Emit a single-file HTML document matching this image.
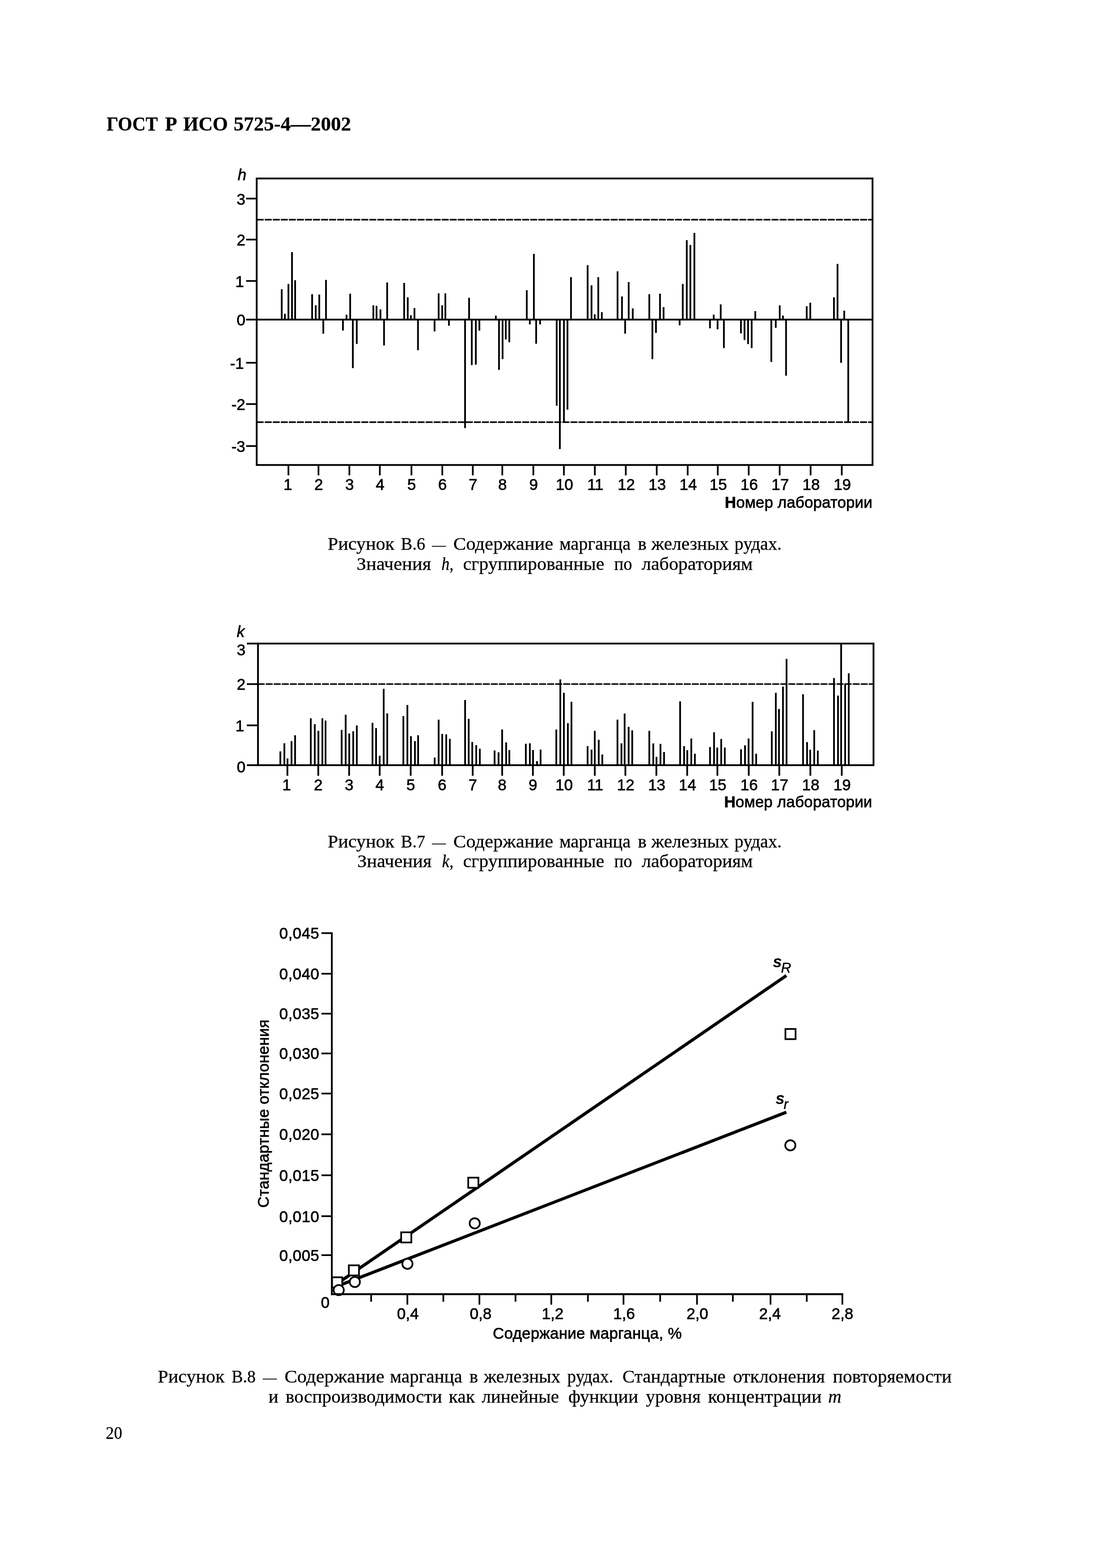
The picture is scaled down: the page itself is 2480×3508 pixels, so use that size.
<!DOCTYPE html>
<html lang="ru">
<head>
<meta charset="utf-8">
<title>ГОСТ Р ИСО 5725-4—2002</title>
<style>
html,body{margin:0;padding:0;background:#fff;}
body{width:2480px;height:3508px;overflow:hidden;}
svg{display:block;}
text{fill:#000;white-space:pre;}
.sa{font-family:"Liberation Sans", sans-serif;stroke:#000;stroke-width:0.8px;}
.se{font-family:"Liberation Serif", serif;stroke:#000;stroke-width:0.35px;}
</style>
</head>
<body>
<svg width="2480" height="3508" viewBox="0 0 2480 3508">
<rect width="2480" height="3508" fill="#fff"/>
<g id="chart1">
<rect x="574.0" y="399.3" width="1377.2" height="641.0" fill="none" stroke="#000" stroke-width="4"/>
<line x1="550.4" y1="715.0" x2="1951.2" y2="715.0" stroke="#000" stroke-width="3.8" />
<line x1="550.4" y1="444.3" x2="574.0" y2="444.3" stroke="#000" stroke-width="3.8" />
<text class="sa" x="548.6" y="457.6" font-size="35" text-anchor="end">3</text>
<line x1="550.4" y1="536.0" x2="574.0" y2="536.0" stroke="#000" stroke-width="3.8" />
<text class="sa" x="548.6" y="549.3" font-size="35" text-anchor="end">2</text>
<line x1="550.4" y1="628.6" x2="574.0" y2="628.6" stroke="#000" stroke-width="3.8" />
<text class="sa" x="545.6" y="641.9" font-size="35" text-anchor="end">1</text>
<text class="sa" x="548.6" y="728.3" font-size="35" text-anchor="end">0</text>
<line x1="550.4" y1="811.6" x2="574.0" y2="811.6" stroke="#000" stroke-width="3.8" />
<text class="sa" x="545.6" y="824.9" font-size="35" text-anchor="end">-1</text>
<line x1="550.4" y1="904.0" x2="574.0" y2="904.0" stroke="#000" stroke-width="3.8" />
<text class="sa" x="548.6" y="917.3" font-size="35" text-anchor="end">-2</text>
<line x1="550.4" y1="997.9" x2="574.0" y2="997.9" stroke="#000" stroke-width="3.8" />
<text class="sa" x="548.6" y="1011.2" font-size="35" text-anchor="end">-3</text>
<line x1="574.0" y1="491.5" x2="1951.2" y2="491.5" stroke="#000" stroke-width="3.3" stroke-dasharray="15.7 2.29"/>
<line x1="574.0" y1="944.5" x2="1951.2" y2="944.5" stroke="#000" stroke-width="3.3" stroke-dasharray="15.7 2.29"/>
<path fill="#000" d="M628.05 647.1h3.9V715.0h-3.9zM635.05 702.1h3.9V715.0h-3.9zM643.05 635.2h3.9V715.0h-3.9zM651.05 564.1h3.9V715.0h-3.9zM658.05 627.0h3.9V715.0h-3.9zM696.05 658.2h3.9V715.0h-3.9zM704.05 683.1h3.9V715.0h-3.9zM712.05 659.0h3.9V715.0h-3.9zM721.05 715.0h3.9V746.6h-3.9zM727.05 626.2h3.9V715.0h-3.9zM764.95 715.0h3.9V739.5h-3.9zM772.95 704.1h3.9V715.0h-3.9zM781.15 657.1h3.9V715.0h-3.9zM787.05 715.0h3.9V823.4h-3.9zM795.85 715.0h3.9V769.6h-3.9zM832.95 683.1h3.9V715.0h-3.9zM840.05 684.3h3.9V715.0h-3.9zM848.85 692.2h3.9V715.0h-3.9zM856.85 715.0h3.9V772.7h-3.9zM863.85 632.1h3.9V715.0h-3.9zM901.85 633.0h3.9V715.0h-3.9zM909.85 665.0h3.9V715.0h-3.9zM916.85 705.2h3.9V715.0h-3.9zM924.85 689.1h3.9V715.0h-3.9zM932.75 715.0h3.9V783.5h-3.9zM969.85 715.0h3.9V741.5h-3.9zM978.95 656.2h3.9V715.0h-3.9zM986.95 683.1h3.9V715.0h-3.9zM993.95 656.2h3.9V715.0h-3.9zM1001.95 715.0h3.9V728.7h-3.9zM1038.05 715.0h3.9V957.7h-3.9zM1047.05 666.3h3.9V715.0h-3.9zM1053.05 715.0h3.9V816.8h-3.9zM1062.15 715.0h3.9V815.7h-3.9zM1070.05 715.0h3.9V739.7h-3.9zM1106.85 706.3h3.9V715.0h-3.9zM1113.95 715.0h3.9V827.6h-3.9zM1121.95 715.0h3.9V803.5h-3.9zM1129.05 715.0h3.9V759.5h-3.9zM1136.95 715.0h3.9V765.8h-3.9zM1176.05 649.3h3.9V715.0h-3.9zM1182.85 715.0h3.9V725.8h-3.9zM1191.95 567.9h3.9V715.0h-3.9zM1197.05 715.0h3.9V768.9h-3.9zM1205.85 715.0h3.9V725.8h-3.9zM1242.95 715.0h3.9V907.8h-3.9zM1250.05 715.0h3.9V1004.7h-3.9zM1259.15 715.0h3.9V944.6h-3.9zM1267.05 715.0h3.9V916.6h-3.9zM1274.95 620.1h3.9V715.0h-3.9zM1312.15 593.2h3.9V715.0h-3.9zM1320.85 638.2h3.9V715.0h-3.9zM1327.95 703.1h3.9V715.0h-3.9zM1335.95 620.1h3.9V715.0h-3.9zM1343.85 698.3h3.9V715.0h-3.9zM1379.05 607.1h3.9V715.0h-3.9zM1388.95 663.2h3.9V715.0h-3.9zM1396.05 715.0h3.9V746.5h-3.9zM1403.95 631.1h3.9V715.0h-3.9zM1413.05 690.1h3.9V715.0h-3.9zM1450.05 658.2h3.9V715.0h-3.9zM1456.95 715.0h3.9V803.6h-3.9zM1464.95 715.0h3.9V744.8h-3.9zM1473.95 657.0h3.9V715.0h-3.9zM1481.95 687.1h3.9V715.0h-3.9zM1517.85 715.0h3.9V727.8h-3.9zM1524.85 635.2h3.9V715.0h-3.9zM1533.85 537.2h3.9V715.0h-3.9zM1541.85 548.1h3.9V715.0h-3.9zM1550.85 521.1h3.9V715.0h-3.9zM1585.75 715.0h3.9V734.5h-3.9zM1594.05 704.1h3.9V715.0h-3.9zM1602.75 715.0h3.9V736.8h-3.9zM1609.75 681.0h3.9V715.0h-3.9zM1616.85 715.0h3.9V778.8h-3.9zM1654.95 715.0h3.9V745.8h-3.9zM1662.95 715.0h3.9V760.8h-3.9zM1670.95 715.0h3.9V769.8h-3.9zM1678.95 715.0h3.9V778.8h-3.9zM1687.05 696.1h3.9V715.0h-3.9zM1722.85 715.0h3.9V809.8h-3.9zM1732.85 715.0h3.9V733.6h-3.9zM1741.75 683.3h3.9V715.0h-3.9zM1748.85 706.0h3.9V715.0h-3.9zM1755.85 715.0h3.9V840.6h-3.9zM1802.05 685.2h3.9V715.0h-3.9zM1810.05 677.2h3.9V715.0h-3.9zM1862.95 665.3h3.9V715.0h-3.9zM1870.95 590.4h3.9V715.0h-3.9zM1878.95 715.0h3.9V811.8h-3.9zM1885.95 695.1h3.9V715.0h-3.9zM1894.95 715.0h3.9V944.4h-3.9z"/>
<line x1="645.0" y1="1040.3" x2="645.0" y2="1063.5" stroke="#000" stroke-width="3.8" />
<text class="sa" x="643.8" y="1096.0" font-size="35" text-anchor="middle">1</text>
<line x1="712.2" y1="1040.3" x2="712.2" y2="1063.5" stroke="#000" stroke-width="3.8" />
<text class="sa" x="712.7" y="1096.0" font-size="35" text-anchor="middle">2</text>
<line x1="781.3" y1="1040.3" x2="781.3" y2="1063.5" stroke="#000" stroke-width="3.8" />
<text class="sa" x="781.8" y="1096.0" font-size="35" text-anchor="middle">3</text>
<line x1="849.4" y1="1040.3" x2="849.4" y2="1063.5" stroke="#000" stroke-width="3.8" />
<text class="sa" x="849.9" y="1096.0" font-size="35" text-anchor="middle">4</text>
<line x1="920.1" y1="1040.3" x2="920.1" y2="1063.5" stroke="#000" stroke-width="3.8" />
<text class="sa" x="920.6" y="1096.0" font-size="35" text-anchor="middle">5</text>
<line x1="989.1" y1="1040.3" x2="989.1" y2="1063.5" stroke="#000" stroke-width="3.8" />
<text class="sa" x="989.6" y="1096.0" font-size="35" text-anchor="middle">6</text>
<line x1="1057.3" y1="1040.3" x2="1057.3" y2="1063.5" stroke="#000" stroke-width="3.8" />
<text class="sa" x="1057.8" y="1096.0" font-size="35" text-anchor="middle">7</text>
<line x1="1123.3" y1="1040.3" x2="1123.3" y2="1063.5" stroke="#000" stroke-width="3.8" />
<text class="sa" x="1123.8" y="1096.0" font-size="35" text-anchor="middle">8</text>
<line x1="1192.7" y1="1040.3" x2="1192.7" y2="1063.5" stroke="#000" stroke-width="3.8" />
<text class="sa" x="1193.2" y="1096.0" font-size="35" text-anchor="middle">9</text>
<line x1="1261.0" y1="1040.3" x2="1261.0" y2="1063.5" stroke="#000" stroke-width="3.8" />
<text class="sa" x="1262.2" y="1096.0" font-size="35" text-anchor="middle">10</text>
<line x1="1330.2" y1="1040.3" x2="1330.2" y2="1063.5" stroke="#000" stroke-width="3.8" />
<text class="sa" x="1331.4" y="1096.0" font-size="35" text-anchor="middle">11</text>
<line x1="1399.4" y1="1040.3" x2="1399.4" y2="1063.5" stroke="#000" stroke-width="3.8" />
<text class="sa" x="1400.6" y="1096.0" font-size="35" text-anchor="middle">12</text>
<line x1="1468.6" y1="1040.3" x2="1468.6" y2="1063.5" stroke="#000" stroke-width="3.8" />
<text class="sa" x="1469.8" y="1096.0" font-size="35" text-anchor="middle">13</text>
<line x1="1537.8" y1="1040.3" x2="1537.8" y2="1063.5" stroke="#000" stroke-width="3.8" />
<text class="sa" x="1539.0" y="1096.0" font-size="35" text-anchor="middle">14</text>
<line x1="1605.1" y1="1040.3" x2="1605.1" y2="1063.5" stroke="#000" stroke-width="3.8" />
<text class="sa" x="1606.3" y="1096.0" font-size="35" text-anchor="middle">15</text>
<line x1="1674.3" y1="1040.3" x2="1674.3" y2="1063.5" stroke="#000" stroke-width="3.8" />
<text class="sa" x="1675.5" y="1096.0" font-size="35" text-anchor="middle">16</text>
<line x1="1743.5" y1="1040.3" x2="1743.5" y2="1063.5" stroke="#000" stroke-width="3.8" />
<text class="sa" x="1744.7" y="1096.0" font-size="35" text-anchor="middle">17</text>
<line x1="1812.7" y1="1040.3" x2="1812.7" y2="1063.5" stroke="#000" stroke-width="3.8" />
<text class="sa" x="1813.9" y="1096.0" font-size="35" text-anchor="middle">18</text>
<line x1="1882.4" y1="1040.3" x2="1882.4" y2="1063.5" stroke="#000" stroke-width="3.8" />
<text class="sa" x="1883.6" y="1096.0" font-size="35" text-anchor="middle">19</text>
<text class="sa" x="531.5" y="402.8" font-size="35" style="font-style:italic">h</text>
<text class="sa" x="1620.8" y="1136.2" font-size="35" textLength="330.0" lengthAdjust="spacing"><tspan font-weight="bold">Н</tspan>омер лаборатории</text>
</g>
<g id="chart2">
<rect x="576.9" y="1439.8" width="1376.5" height="272.1" fill="none" stroke="#000" stroke-width="4"/>
<line x1="552.0" y1="1439.8" x2="576.9" y2="1439.8" stroke="#000" stroke-width="4" />
<line x1="552.0" y1="1711.9" x2="576.9" y2="1711.9" stroke="#000" stroke-width="4" />
<line x1="552.0" y1="1530.5" x2="576.9" y2="1530.5" stroke="#000" stroke-width="3.8" />
<line x1="552.0" y1="1622.8" x2="576.9" y2="1622.8" stroke="#000" stroke-width="3.8" />
<line x1="576.2" y1="1530.3" x2="1953.4" y2="1530.3" stroke="#000" stroke-width="3.3" stroke-dasharray="15.7 2.28"/>
<text class="sa" x="549.0" y="1466.3" font-size="35" text-anchor="end">3</text>
<text class="sa" x="549.0" y="1543.3" font-size="35" text-anchor="end">2</text>
<text class="sa" x="546.0" y="1636.3" font-size="35" text-anchor="end">1</text>
<text class="sa" x="549.0" y="1727.5" font-size="35" text-anchor="end">0</text>
<path fill="#000" d="M624.95 1681.0h3.9V1711.9h-3.9zM633.95 1662.8h3.9V1711.9h-3.9zM640.95 1696.7h3.9V1711.9h-3.9zM649.95 1657.9h3.9V1711.9h-3.9zM657.95 1644.9h3.9V1711.9h-3.9zM693.05 1607.0h3.9V1711.9h-3.9zM701.95 1620.0h3.9V1711.9h-3.9zM710.05 1635.1h3.9V1711.9h-3.9zM718.95 1607.0h3.9V1711.9h-3.9zM726.05 1612.0h3.9V1711.9h-3.9zM762.05 1632.9h3.9V1711.9h-3.9zM771.05 1599.0h3.9V1711.9h-3.9zM779.05 1640.9h3.9V1711.9h-3.9zM787.95 1636.0h3.9V1711.9h-3.9zM795.95 1623.1h3.9V1711.9h-3.9zM831.05 1616.9h3.9V1711.9h-3.9zM839.05 1628.9h3.9V1711.9h-3.9zM847.05 1690.8h3.9V1711.9h-3.9zM856.05 1541.1h3.9V1711.9h-3.9zM864.05 1596.0h3.9V1711.9h-3.9zM900.05 1602.1h3.9V1711.9h-3.9zM909.05 1577.2h3.9V1711.9h-3.9zM917.05 1647.1h3.9V1711.9h-3.9zM925.95 1657.9h3.9V1711.9h-3.9zM933.05 1644.9h3.9V1711.9h-3.9zM970.05 1694.8h3.9V1711.9h-3.9zM978.95 1610.1h3.9V1711.9h-3.9zM986.95 1642.0h3.9V1711.9h-3.9zM995.95 1643.0h3.9V1711.9h-3.9zM1003.95 1652.9h3.9V1711.9h-3.9zM1038.15 1566.0h3.9V1711.9h-3.9zM1046.15 1608.2h3.9V1711.9h-3.9zM1054.15 1660.0h3.9V1711.9h-3.9zM1063.05 1667.1h3.9V1711.9h-3.9zM1071.05 1675.1h3.9V1711.9h-3.9zM1104.05 1679.1h3.9V1711.9h-3.9zM1112.95 1683.1h3.9V1711.9h-3.9zM1120.95 1632.0h3.9V1711.9h-3.9zM1129.95 1660.9h3.9V1711.9h-3.9zM1137.05 1677.9h3.9V1711.9h-3.9zM1173.95 1664.0h3.9V1711.9h-3.9zM1182.95 1663.1h3.9V1711.9h-3.9zM1190.05 1677.9h3.9V1711.9h-3.9zM1198.95 1702.8h3.9V1711.9h-3.9zM1206.95 1676.9h3.9V1711.9h-3.9zM1242.05 1632.0h3.9V1711.9h-3.9zM1251.05 1520.1h3.9V1711.9h-3.9zM1259.05 1550.0h3.9V1711.9h-3.9zM1267.95 1618.1h3.9V1711.9h-3.9zM1275.95 1570.0h3.9V1711.9h-3.9zM1312.05 1668.9h3.9V1711.9h-3.9zM1320.95 1676.9h3.9V1711.9h-3.9zM1328.05 1635.0h3.9V1711.9h-3.9zM1336.95 1655.1h3.9V1711.9h-3.9zM1344.95 1688.0h3.9V1711.9h-3.9zM1378.85 1610.1h3.9V1711.9h-3.9zM1387.75 1663.1h3.9V1711.9h-3.9zM1394.85 1596.2h3.9V1711.9h-3.9zM1403.85 1626.1h3.9V1711.9h-3.9zM1411.85 1634.1h3.9V1711.9h-3.9zM1450.05 1635.0h3.9V1711.9h-3.9zM1458.95 1663.3h3.9V1711.9h-3.9zM1466.05 1693.2h3.9V1711.9h-3.9zM1475.05 1664.3h3.9V1711.9h-3.9zM1483.05 1682.4h3.9V1711.9h-3.9zM1518.95 1569.3h3.9V1711.9h-3.9zM1527.85 1669.3h3.9V1711.9h-3.9zM1534.95 1678.3h3.9V1711.9h-3.9zM1543.95 1652.3h3.9V1711.9h-3.9zM1551.95 1686.3h3.9V1711.9h-3.9zM1585.85 1671.2h3.9V1711.9h-3.9zM1594.85 1638.2h3.9V1711.9h-3.9zM1601.95 1672.5h3.9V1711.9h-3.9zM1610.85 1653.3h3.9V1711.9h-3.9zM1618.85 1672.5h3.9V1711.9h-3.9zM1655.15 1676.3h3.9V1711.9h-3.9zM1664.05 1667.4h3.9V1711.9h-3.9zM1672.05 1652.3h3.9V1711.9h-3.9zM1681.05 1570.3h3.9V1711.9h-3.9zM1689.05 1686.3h3.9V1711.9h-3.9zM1723.95 1636.3h3.9V1711.9h-3.9zM1732.95 1550.1h3.9V1711.9h-3.9zM1740.05 1586.3h3.9V1711.9h-3.9zM1748.95 1536.3h3.9V1711.9h-3.9zM1756.95 1474.1h3.9V1711.9h-3.9zM1793.85 1553.3h3.9V1711.9h-3.9zM1802.85 1660.3h3.9V1711.9h-3.9zM1809.85 1677.3h3.9V1711.9h-3.9zM1818.85 1633.4h3.9V1711.9h-3.9zM1826.85 1679.2h3.9V1711.9h-3.9zM1863.05 1517.1h3.9V1711.9h-3.9zM1872.05 1556.2h3.9V1711.9h-3.9zM1879.05 1439.9h3.9V1711.9h-3.9zM1888.05 1529.3h3.9V1711.9h-3.9zM1896.05 1506.2h3.9V1711.9h-3.9z"/>
<line x1="642.7" y1="1711.9" x2="642.7" y2="1735.6" stroke="#000" stroke-width="3.9" />
<text class="sa" x="641.1" y="1767.6" font-size="35" text-anchor="middle">1</text>
<line x1="711.7" y1="1711.9" x2="711.7" y2="1735.6" stroke="#000" stroke-width="3.9" />
<text class="sa" x="711.8" y="1767.6" font-size="35" text-anchor="middle">2</text>
<line x1="780.7" y1="1711.9" x2="780.7" y2="1735.6" stroke="#000" stroke-width="3.9" />
<text class="sa" x="780.8" y="1767.6" font-size="35" text-anchor="middle">3</text>
<line x1="849.1" y1="1711.9" x2="849.1" y2="1735.6" stroke="#000" stroke-width="3.9" />
<text class="sa" x="849.2" y="1767.6" font-size="35" text-anchor="middle">4</text>
<line x1="918.4" y1="1711.9" x2="918.4" y2="1735.6" stroke="#000" stroke-width="3.9" />
<text class="sa" x="918.5" y="1767.6" font-size="35" text-anchor="middle">5</text>
<line x1="988.7" y1="1711.9" x2="988.7" y2="1735.6" stroke="#000" stroke-width="3.9" />
<text class="sa" x="988.8" y="1767.6" font-size="35" text-anchor="middle">6</text>
<line x1="1057.1" y1="1711.9" x2="1057.1" y2="1735.6" stroke="#000" stroke-width="3.9" />
<text class="sa" x="1057.2" y="1767.6" font-size="35" text-anchor="middle">7</text>
<line x1="1123.0" y1="1711.9" x2="1123.0" y2="1735.6" stroke="#000" stroke-width="3.9" />
<text class="sa" x="1123.1" y="1767.6" font-size="35" text-anchor="middle">8</text>
<line x1="1191.7" y1="1711.9" x2="1191.7" y2="1735.6" stroke="#000" stroke-width="3.9" />
<text class="sa" x="1191.8" y="1767.6" font-size="35" text-anchor="middle">9</text>
<line x1="1260.7" y1="1711.9" x2="1260.7" y2="1735.6" stroke="#000" stroke-width="3.9" />
<text class="sa" x="1261.5" y="1767.6" font-size="35" text-anchor="middle">10</text>
<line x1="1330.1" y1="1711.9" x2="1330.1" y2="1735.6" stroke="#000" stroke-width="3.9" />
<text class="sa" x="1330.9" y="1767.6" font-size="35" text-anchor="middle">11</text>
<line x1="1398.5" y1="1711.9" x2="1398.5" y2="1735.6" stroke="#000" stroke-width="3.9" />
<text class="sa" x="1399.3" y="1767.6" font-size="35" text-anchor="middle">12</text>
<line x1="1467.8" y1="1711.9" x2="1467.8" y2="1735.6" stroke="#000" stroke-width="3.9" />
<text class="sa" x="1468.6" y="1767.6" font-size="35" text-anchor="middle">13</text>
<line x1="1536.7" y1="1711.9" x2="1536.7" y2="1735.6" stroke="#000" stroke-width="3.9" />
<text class="sa" x="1537.5" y="1767.6" font-size="35" text-anchor="middle">14</text>
<line x1="1604.3" y1="1711.9" x2="1604.3" y2="1735.6" stroke="#000" stroke-width="3.9" />
<text class="sa" x="1605.1" y="1767.6" font-size="35" text-anchor="middle">15</text>
<line x1="1674.4" y1="1711.9" x2="1674.4" y2="1735.6" stroke="#000" stroke-width="3.9" />
<text class="sa" x="1675.2" y="1767.6" font-size="35" text-anchor="middle">16</text>
<line x1="1742.7" y1="1711.9" x2="1742.7" y2="1735.6" stroke="#000" stroke-width="3.9" />
<text class="sa" x="1743.5" y="1767.6" font-size="35" text-anchor="middle">17</text>
<line x1="1812.2" y1="1711.9" x2="1812.2" y2="1735.6" stroke="#000" stroke-width="3.9" />
<text class="sa" x="1813.0" y="1767.6" font-size="35" text-anchor="middle">18</text>
<line x1="1882.4" y1="1711.9" x2="1882.4" y2="1735.6" stroke="#000" stroke-width="3.9" />
<text class="sa" x="1883.2" y="1767.6" font-size="35" text-anchor="middle">19</text>
<text class="sa" x="529.5" y="1424.6" font-size="35" style="font-style:italic">k</text>
<text class="sa" x="1619.4" y="1806.1" font-size="35" textLength="331.0" lengthAdjust="spacing"><tspan font-weight="bold">Н</tspan>омер лаборатории</text>
</g>
<g id="chart3">
<line x1="748.0" y1="2875.8" x2="1758.5" y2="2182.6" stroke="#000" stroke-width="6.9" />
<line x1="748.0" y1="2880.0" x2="1758.5" y2="2488.3" stroke="#000" stroke-width="6.9" />
<rect x="742.6" y="2857.6" width="22.7" height="22.7" fill="#fff" stroke="#000" stroke-width="3.8"/>
<rect x="780.1" y="2830.8" width="22.7" height="22.7" fill="#fff" stroke="#000" stroke-width="3.8"/>
<rect x="897.1" y="2757.0" width="22.7" height="22.7" fill="#fff" stroke="#000" stroke-width="3.8"/>
<rect x="1047.1" y="2634.7" width="22.7" height="22.7" fill="#fff" stroke="#000" stroke-width="3.8"/>
<rect x="1756.4" y="2302.1" width="22.7" height="22.7" fill="#fff" stroke="#000" stroke-width="3.8"/>
<circle cx="757.5" cy="2886.3" r="11.4" fill="#fff" stroke="#000" stroke-width="3.8"/>
<circle cx="793.5" cy="2868.0" r="11.4" fill="#fff" stroke="#000" stroke-width="3.8"/>
<circle cx="911.1" cy="2827.4" r="11.4" fill="#fff" stroke="#000" stroke-width="3.8"/>
<circle cx="1061.6" cy="2736.9" r="11.4" fill="#fff" stroke="#000" stroke-width="3.8"/>
<circle cx="1767.4" cy="2562.4" r="11.4" fill="#fff" stroke="#000" stroke-width="3.8"/>
<line x1="742.0" y1="2085.7" x2="742.0" y2="2897.4" stroke="#000" stroke-width="4" />
<line x1="740.0" y1="2895.3" x2="1885.7" y2="2895.3" stroke="#000" stroke-width="4.2" />
<line x1="718.8" y1="2087.6" x2="742.0" y2="2087.6" stroke="#000" stroke-width="3.8" />
<text class="sa" x="624.6" y="2100.2" font-size="35" textLength="89.2" lengthAdjust="spacing">0,045</text>
<line x1="718.8" y1="2178.5" x2="742.0" y2="2178.5" stroke="#000" stroke-width="3.8" />
<text class="sa" x="624.6" y="2191.1" font-size="35" textLength="89.2" lengthAdjust="spacing">0,040</text>
<line x1="718.8" y1="2267.8" x2="742.0" y2="2267.8" stroke="#000" stroke-width="3.8" />
<text class="sa" x="624.6" y="2280.4" font-size="35" textLength="89.2" lengthAdjust="spacing">0,035</text>
<line x1="718.8" y1="2356.8" x2="742.0" y2="2356.8" stroke="#000" stroke-width="3.8" />
<text class="sa" x="624.6" y="2369.4" font-size="35" textLength="89.2" lengthAdjust="spacing">0,030</text>
<line x1="718.8" y1="2446.5" x2="742.0" y2="2446.5" stroke="#000" stroke-width="3.8" />
<text class="sa" x="624.6" y="2459.1" font-size="35" textLength="89.2" lengthAdjust="spacing">0,025</text>
<line x1="718.8" y1="2537.7" x2="742.0" y2="2537.7" stroke="#000" stroke-width="3.8" />
<text class="sa" x="624.6" y="2550.3" font-size="35" textLength="89.2" lengthAdjust="spacing">0,020</text>
<line x1="718.8" y1="2629.4" x2="742.0" y2="2629.4" stroke="#000" stroke-width="3.8" />
<text class="sa" x="624.6" y="2642.0" font-size="35" textLength="89.2" lengthAdjust="spacing">0,015</text>
<line x1="718.8" y1="2720.9" x2="742.0" y2="2720.9" stroke="#000" stroke-width="3.8" />
<text class="sa" x="624.6" y="2733.5" font-size="35" textLength="89.2" lengthAdjust="spacing">0,010</text>
<line x1="718.8" y1="2808.1" x2="742.0" y2="2808.1" stroke="#000" stroke-width="3.8" />
<text class="sa" x="624.6" y="2820.7" font-size="35" textLength="89.2" lengthAdjust="spacing">0,005</text>
<text class="sa" x="727.2" y="2925.8" font-size="35" text-anchor="middle">0</text>
<line x1="911.0" y1="2895.3" x2="911.0" y2="2918.8" stroke="#000" stroke-width="3.8" />
<line x1="1072.1" y1="2895.3" x2="1072.1" y2="2918.8" stroke="#000" stroke-width="3.8" />
<line x1="1232.8" y1="2895.3" x2="1232.8" y2="2918.8" stroke="#000" stroke-width="3.8" />
<line x1="1394.3" y1="2895.3" x2="1394.3" y2="2918.8" stroke="#000" stroke-width="3.8" />
<line x1="1558.7" y1="2895.3" x2="1558.7" y2="2918.8" stroke="#000" stroke-width="3.8" />
<line x1="1723.1" y1="2895.3" x2="1723.1" y2="2918.8" stroke="#000" stroke-width="3.8" />
<line x1="1883.7" y1="2895.3" x2="1883.7" y2="2918.8" stroke="#000" stroke-width="3.8" />
<line x1="830.0" y1="2895.3" x2="830.0" y2="2912.3" stroke="#000" stroke-width="3.8" />
<line x1="991.4" y1="2895.3" x2="991.4" y2="2912.3" stroke="#000" stroke-width="3.8" />
<line x1="1152.8" y1="2895.3" x2="1152.8" y2="2912.3" stroke="#000" stroke-width="3.8" />
<line x1="1314.7" y1="2895.3" x2="1314.7" y2="2912.3" stroke="#000" stroke-width="3.8" />
<line x1="1476.3" y1="2895.3" x2="1476.3" y2="2912.3" stroke="#000" stroke-width="3.8" />
<line x1="1638.8" y1="2895.3" x2="1638.8" y2="2912.3" stroke="#000" stroke-width="3.8" />
<line x1="1804.1" y1="2895.3" x2="1804.1" y2="2912.3" stroke="#000" stroke-width="3.8" />
<text class="sa" x="887.8" y="2951.0" font-size="35" textLength="48.6" lengthAdjust="spacing">0,4</text>
<text class="sa" x="1050.6" y="2951.0" font-size="35" textLength="48.6" lengthAdjust="spacing">0,8</text>
<text class="sa" x="1211.6" y="2951.0" font-size="35" textLength="48.6" lengthAdjust="spacing">1,2</text>
<text class="sa" x="1371.3" y="2951.0" font-size="35" textLength="48.6" lengthAdjust="spacing">1,6</text>
<text class="sa" x="1535.2" y="2951.0" font-size="35" textLength="48.6" lengthAdjust="spacing">2,0</text>
<text class="sa" x="1697.5" y="2951.0" font-size="35" textLength="48.6" lengthAdjust="spacing">2,4</text>
<text class="sa" x="1859.5" y="2951.0" font-size="35" textLength="48.6" lengthAdjust="spacing">2,8</text>
<text class="sa" x="1102.0" y="2995.0" font-size="35" textLength="422.5" lengthAdjust="spacing">Содержание марганца, %</text>
<text class="sa" font-size="35" transform="translate(600.5 2702.0) rotate(-90)" textLength="421.0" lengthAdjust="spacing">Стандартные отклонения</text>
<text class="sa" x="1728.2" y="2164.2" font-size="36.5" style="font-style:italic;font-weight:bold;stroke-width:0">s<tspan x="1746.4" y="2175.8" font-size="31.5" style="font-weight:normal;stroke-width:0.5px">R</tspan></text>
<text class="sa" x="1734.3" y="2470.3" font-size="36.5" style="font-style:italic;font-weight:bold;stroke-width:0">s<tspan x="1752.5" y="2481.0" font-size="31" style="font-weight:normal;stroke-width:0.5px">r</tspan></text>
</g>
<g id="texts">
<text class="se" y="292.1" font-size="44.5" style="font-weight:bold"><tspan x="238.6" textLength="114.3" lengthAdjust="spacingAndGlyphs">ГОСТ</tspan> <tspan x="369.1">Р</tspan> <tspan x="409.8" textLength="99.9" lengthAdjust="spacingAndGlyphs">ИСО</tspan> <tspan x="522.5" textLength="262.6" lengthAdjust="spacingAndGlyphs">5725-4—2002</tspan></text>
<text class="se" y="1230.4" font-size="41"><tspan x="732.7" textLength="149.4" lengthAdjust="spacingAndGlyphs">Рисунок</tspan> <tspan x="896.6" textLength="54.4" lengthAdjust="spacingAndGlyphs">В.6</tspan> <tspan x="966.2" font-size="30.6">—</tspan> <tspan x="1013.8" textLength="223.5" lengthAdjust="spacingAndGlyphs">Содержание</tspan> <tspan x="1251.0" textLength="159.2" lengthAdjust="spacingAndGlyphs">марганца</tspan> <tspan x="1426.4">в</tspan> <tspan x="1456.6" textLength="173.2" lengthAdjust="spacingAndGlyphs">железных</tspan> <tspan x="1642.6" textLength="105.4" lengthAdjust="spacingAndGlyphs">рудах.</tspan></text>
<text class="se" y="1274.5" font-size="41"><tspan x="797.6" textLength="166.5" lengthAdjust="spacingAndGlyphs">Значения</tspan> <tspan x="987.2" textLength="26.9" lengthAdjust="spacingAndGlyphs"><tspan font-style="italic">h</tspan>,</tspan> <tspan x="1035.5" textLength="315.9" lengthAdjust="spacingAndGlyphs">сгруппированные</tspan> <tspan x="1373.4" textLength="40.2" lengthAdjust="spacingAndGlyphs">по</tspan> <tspan x="1435.0" textLength="248.4" lengthAdjust="spacingAndGlyphs">лабораториям</tspan></text>
<text class="se" y="1896.3" font-size="41"><tspan x="732.7" textLength="149.4" lengthAdjust="spacingAndGlyphs">Рисунок</tspan> <tspan x="896.6" textLength="54.4" lengthAdjust="spacingAndGlyphs">В.7</tspan> <tspan x="966.2" font-size="30.6">—</tspan> <tspan x="1013.8" textLength="223.5" lengthAdjust="spacingAndGlyphs">Содержание</tspan> <tspan x="1251.0" textLength="159.2" lengthAdjust="spacingAndGlyphs">марганца</tspan> <tspan x="1426.4">в</tspan> <tspan x="1456.6" textLength="173.2" lengthAdjust="spacingAndGlyphs">железных</tspan> <tspan x="1642.6" textLength="105.4" lengthAdjust="spacingAndGlyphs">рудах.</tspan></text>
<text class="se" y="1940.3" font-size="41"><tspan x="798.9" textLength="166.5" lengthAdjust="spacingAndGlyphs">Значения</tspan> <tspan x="988.5" textLength="25.6" lengthAdjust="spacingAndGlyphs"><tspan font-style="italic">k</tspan>,</tspan> <tspan x="1035.5" textLength="315.9" lengthAdjust="spacingAndGlyphs">сгруппированные</tspan> <tspan x="1373.4" textLength="40.2" lengthAdjust="spacingAndGlyphs">по</tspan> <tspan x="1435.0" textLength="248.4" lengthAdjust="spacingAndGlyphs">лабораториям</tspan></text>
<text class="se" y="3093.0" font-size="41"><tspan x="352.7" textLength="149.5" lengthAdjust="spacingAndGlyphs">Рисунок</tspan> <tspan x="518.1" textLength="53.7" lengthAdjust="spacingAndGlyphs">В.8</tspan> <tspan x="587.9" font-size="30.9">—</tspan> <tspan x="636.2" textLength="223.4" lengthAdjust="spacingAndGlyphs">Содержание</tspan> <tspan x="872.0" textLength="161.6" lengthAdjust="spacingAndGlyphs">марганца</tspan> <tspan x="1049.7">в</tspan> <tspan x="1081.7" textLength="171.5" lengthAdjust="spacingAndGlyphs">железных</tspan> <tspan x="1268.6" textLength="102.7" lengthAdjust="spacingAndGlyphs">рудах.</tspan> <tspan x="1392.0" textLength="230.5" lengthAdjust="spacingAndGlyphs">Стандартные</tspan> <tspan x="1638.9" textLength="205.8" lengthAdjust="spacingAndGlyphs">отклонения</tspan> <tspan x="1862.5" textLength="265.7" lengthAdjust="spacingAndGlyphs">повторяемости</tspan></text>
<text class="se" y="3138.0" font-size="41"><tspan x="600.6">и</tspan> <tspan x="638.8" textLength="349.9" lengthAdjust="spacingAndGlyphs">воспроизводимости</tspan> <tspan x="1003.5" textLength="58.4" lengthAdjust="spacingAndGlyphs">как</tspan> <tspan x="1077.3" textLength="172.6" lengthAdjust="spacingAndGlyphs">линейные</tspan> <tspan x="1271.0" textLength="156.2" lengthAdjust="spacingAndGlyphs">функции</tspan> <tspan x="1444.3" textLength="122.6" lengthAdjust="spacingAndGlyphs">уровня</tspan> <tspan x="1583.3" textLength="254.1" lengthAdjust="spacingAndGlyphs">концентрации</tspan> <tspan x="1851.9"><tspan font-style="italic">m</tspan></tspan></text>
<text class="se" y="3218.6" font-size="41"><tspan x="236.6" textLength="36.6" lengthAdjust="spacingAndGlyphs">20</tspan></text>
</g>
</svg>
</body>
</html>
